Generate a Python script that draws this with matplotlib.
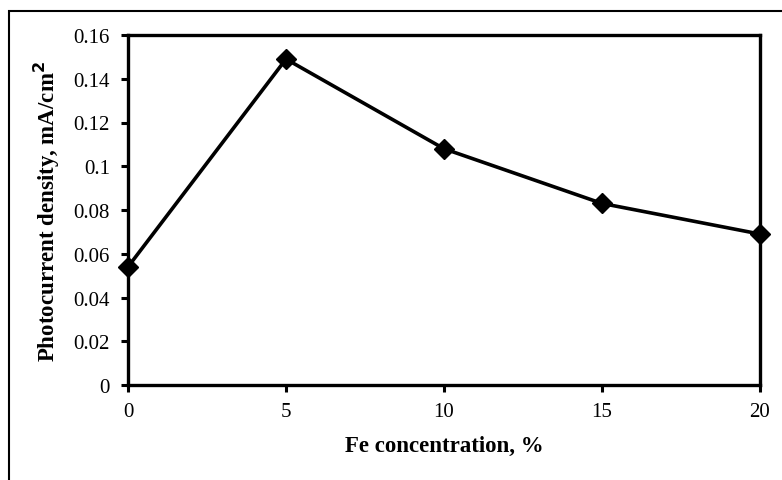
import matplotlib
matplotlib.use('Agg')
import matplotlib.pyplot as plt
from matplotlib.patches import Rectangle

fe_conc = [0, 5, 10, 15, 20]
photocurrent = [0.054, 0.149, 0.108, 0.083, 0.069]
y_ticks = [0, 0.02, 0.04, 0.06, 0.08, 0.1, 0.12, 0.14, 0.16]
y_tick_labels = ['0', '0.02', '0.04', '0.06', '0.08', '0.1', '0.12', '0.14', '0.16']
x_ticks = [0, 5, 10, 15, 20]

plt.rcParams['font.family'] = ['Liberation Serif', 'DejaVu Serif']

fig = plt.figure(figsize=(7.82, 4.81), dpi=100)
ax = fig.add_axes([128 / 782, 1 - 386 / 481, (760 - 128) / 782, (386 - 36) / 481])

ax.plot(fe_conc, photocurrent, color='black', linewidth=2.6, marker='D',
        markersize=10, markerfacecolor='black', markeredgecolor='black', clip_on=False)

ax.set_xlim(0, 20)
ax.set_ylim(0, 0.16)
ax.set_xticks(x_ticks)
ax.set_yticks(y_ticks)
ax.set_yticklabels(y_tick_labels)
ax.tick_params(axis='both', direction='out', length=5, width=2.2, labelsize=15, color='black')
ax.tick_params(axis='x', pad=7)
ax.tick_params(axis='y', pad=8)
for s in ax.spines.values():
    s.set_linewidth(2.4)

ax.set_xlabel('Fe concentration, %', fontsize=16.5, fontweight='bold', labelpad=10)
ax.set_ylabel('Photocurrent density, mA/cm$^\\mathbf{2}$', fontsize=16.5, fontweight='bold', labelpad=8)

# outer chart border
fig.patches.append(Rectangle((9 / 782, -0.5), 2, 0.5 + 1 - 12 / 481, transform=fig.transFigure,
                             fill=False, edgecolor='black', linewidth=1.5, clip_on=False))

fig.savefig('out.png', dpi=100)
